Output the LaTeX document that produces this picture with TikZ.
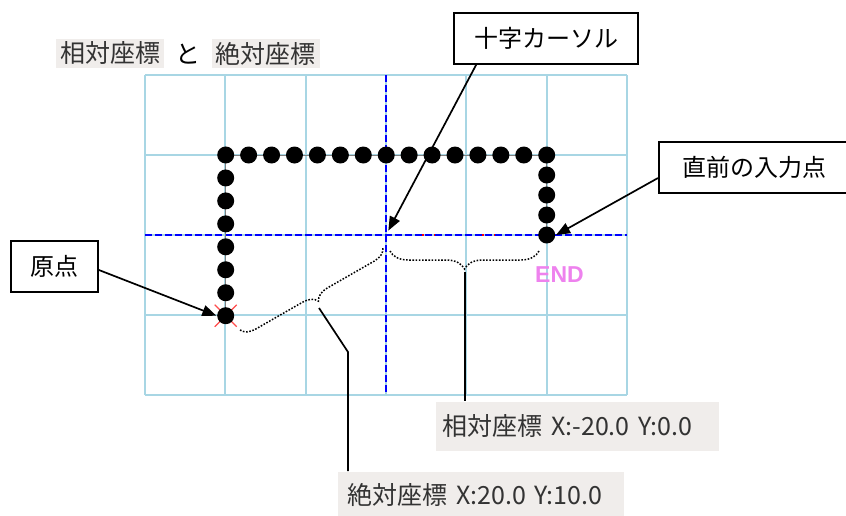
\documentclass[tikz,border=0pt]{standalone}
\usepackage{fontspec}
\setmainfont{Noto Sans CJK JP}
\newfontfamily\endfont{Liberation Sans}
\usepackage{tikz}
\usetikzlibrary{arrows.meta,decorations.pathreplacing}

\definecolor{gridblue}{RGB}{168,214,228}
\definecolor{labelgray}{RGB}{240,237,235}
\definecolor{endpink}{RGB}{238,130,238}

\begin{document}
\begin{tikzpicture}[x=1pt,y=-1pt,>={Triangle[length=14pt,width=11pt]},line width=1.7pt]

    \tikzstyle{callout}=[draw=black,fill=white,line width=1.8pt,minimum height=51pt,font=\fontsize{24}{28}\selectfont]
    \tikzstyle{valbox}=[fill=labelgray,text=black!80,inner xsep=4pt,inner ysep=3pt,font=\fontsize{25}{29}\selectfont]
    \tikzstyle{ptdot}=[circle,fill=black,inner sep=0pt,minimum size=17pt]
    \tikzstyle{brc}=[line width=1.5pt,dash pattern=on 1.6pt off 1.6pt,decorate,decoration={brace,amplitude=18pt,mirror}]

    \useasboundingbox (0,0) rectangle (846,515);

    % grid
    \foreach \x in {0,...,6}
        \draw[gridblue,line width=2pt] (145+\x*80.33,75) -- (145+\x*80.33,395);
    \foreach \y in {0,...,4}
        \draw[gridblue,line width=2pt] (145,75+\y*80) -- (627,75+\y*80);

    \coordinate (cur) at (386,235);

    % cross cursor
    \draw[red,line width=1.5pt,dash pattern=on 2pt off 10pt] (cur) -- (546.7,235);
    \draw[blue,line width=1.8pt,dash pattern=on 7pt off 3pt] (386,75) -- (386,395);
    \draw[blue,line width=1.8pt,dash pattern=on 7pt off 3pt] (145,235) -- (627,235);

    % input points
    \draw[gray,line width=1pt] (225.7,315.7) -- (225.7,155) -- (546.7,155) -- (546.7,235);
    \draw[red!70,line width=1.2pt] (214.7,304.7) -- (236.7,326.7) (214.7,326.7) -- (236.7,304.7);
    \foreach \i in {1,...,7}
        \node[ptdot] at (225.7,315.7-\i*22.96) {};
    \foreach \i in {1,...,13}
        \node[ptdot] at (225.7+\i*22.93,155) {};
    \foreach \i in {0,...,3}
        \node[ptdot] at (546.7,155+\i*20) {};
    \node[ptdot] (o)    at (225.7,315.7) {};
    \node[ptdot] (last) at (546.7,235)   {};

    \node[text=endpink,font=\endfont\bfseries\fontsize{23}{26}\selectfont] (endlbl) at (559.5,275) {END};

    % titles
    \node[valbox] (reltitle) at (110,53.5)  {相対座標};
    \node[font=\fontsize{25}{29}\selectfont] (to) at (188,54) {と};
    \node[valbox] (abstitle) at (265.5,53.5) {絶対座標};

    % callouts
    \node[callout,minimum width=184pt] (cross)  at (546,38.5)   {十字カーソル};
    \node[callout,minimum width=192pt,anchor=west] (prev) at (658,167.5) {直前の入力点};
    \node[callout,minimum width=87pt] (genten) at (54.5,266.5) {原点};

    \draw[->,shorten >=5pt] ([xshift=23pt]cross.south west) -- (cur);
    \draw[->] ([yshift=-10.5pt]prev.west) -- (last.east);
    \draw[->] ([yshift=-3.5pt]genten.east) -- (o.west);

    % values
    \node[valbox,anchor=north west,align=left,text width=269pt,inner xsep=7pt,minimum height=49pt] (relval) at (435,401) {相対座標 X:-20.0 Y:0.0};
    \node[valbox,anchor=north west,align=left,text width=266pt,inner xsep=10pt,minimum height=46pt] (absval) at (337,471) {絶対座標 X:20.0 Y:10.0};

    % braces and leaders
    \draw[brc] (390,251) -- (539,251);
    \draw[brc,decoration={amplitude=14pt}] (240,330) -- (383,248);

    \coordinate (reltip)  at (465,272);
    \coordinate (abstip)  at (319,308);
    \coordinate (absbend) at (348,352);
    \draw (reltip) -- (reltip |- relval.north);
    \draw (abstip) -- (absbend) -- (absbend |- absval.north);

\end{tikzpicture}
\end{document}
